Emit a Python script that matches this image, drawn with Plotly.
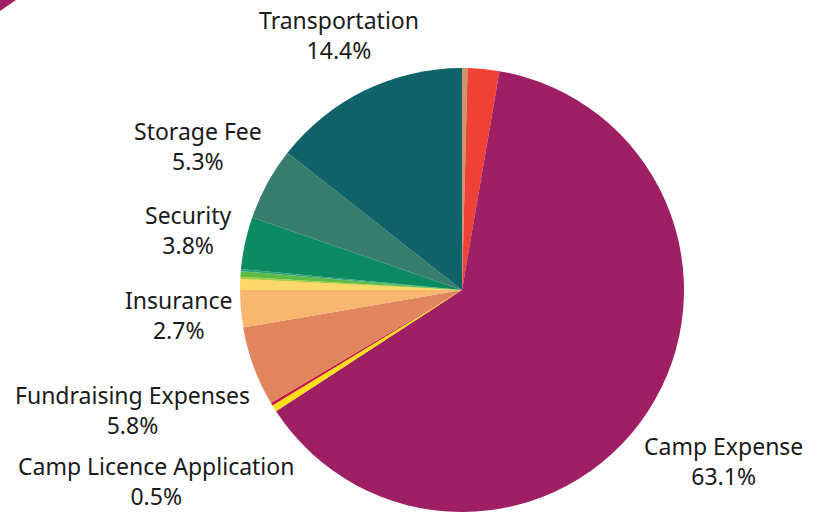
import plotly.graph_objects as go

# Slices in clockwise order starting at 12 o'clock
categories = ["Other A", "Other B", "Camp Expense", "Camp Licence Application", "Other C",
              "Fundraising Expenses", "Insurance", "Other D", "Other E", "Other F", "Other G",
              "Security", "Storage Fee", "Transportation"]
values = [0.4, 2.3, 63.1, 0.5, 0.2, 5.8, 2.7, 0.8, 0.15, 0.4, 0.15, 3.8, 5.3, 14.4]
colors = ["#C9966B", "#EF4136", "#9E1F63", "#FFDE17", "#C8153F", "#E0855E", "#F8B76F",
          "#FDD96A", "#A6CE39", "#5DBB46", "#2AA276", "#0C8A62", "#377D6E", "#0E6268"]
labeled = ["Transportation", "Storage Fee", "Security", "Insurance",
           "Fundraising Expenses", "Camp Licence Application", "Camp Expense"]
label_pos = {  # (x px center, y px center of two-line block)
    "Transportation": (339, 35),
    "Storage Fee": (198, 146),
    "Security": (188, 230),
    "Insurance": (178, 315),
    "Fundraising Expenses": (132, 410),
    "Camp Licence Application": (156, 481),
    "Camp Expense": (723, 461),
}

W, H = 819, 512
fig = go.Figure(go.Pie(
    labels=categories, values=values, sort=False, direction="clockwise", rotation=0,
    marker=dict(colors=colors, line=dict(width=0)),
    textinfo="none", showlegend=False,
    domain=dict(x=[237 / W, 687 / W], y=[0, 1 - 68 / H]),
))

total = sum(values)
for name in labeled:
    v = values[categories.index(name)]
    px, py = label_pos[name]
    fig.add_annotation(
        x=px / W, y=1 - py / H, xref="paper", yref="paper",
        text=f"{name}<br>{v / total * 100:.1f}%", showarrow=False,
        font=dict(family="Noto Sans", size=23, color="#1a1a1a"),
        align="center", xanchor="center", yanchor="middle",
    )

fig.add_shape(type="path", xref="paper", yref="paper",
              path=f"M 0 1 L {16 / W} 1 L 0 {1 - 11 / H} Z",
              fillcolor="#9E1F63", line=dict(width=0))

fig.update_layout(width=W, height=H, margin=dict(l=0, r=0, t=0, b=0),
                  paper_bgcolor="white", plot_bgcolor="white")
fig.write_html("out.html", config={"displayModeBar": False},
               post_script="document.body.style.margin='0';document.body.style.overflow='hidden';")
